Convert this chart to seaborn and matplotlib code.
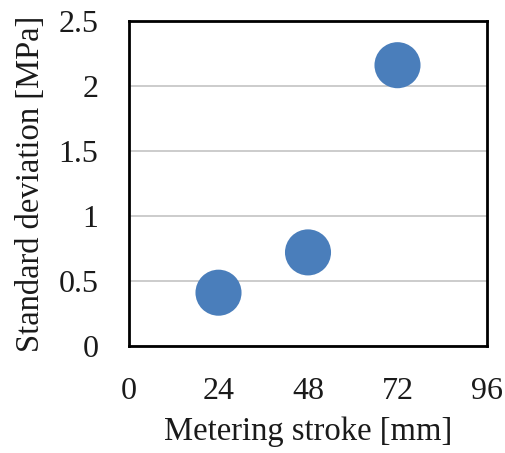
import matplotlib
matplotlib.use("Agg")
import matplotlib.pyplot as plt
import seaborn as sns
import pandas as pd

stroke = [24, 48, 72]
std_dev = [0.41, 0.72, 2.16]
x_ticks = [0, 24, 48, 72, 96]
y_ticks = [0, 0.5, 1, 1.5, 2, 2.5]
y_tick_labels = ["0", "0.5", "1", "1.5", "2", "2.5"]

sns.set_theme(style="white")
plt.rcParams['font.family'] = ['Liberation Serif', 'DejaVu Serif']

df = pd.DataFrame({"stroke": stroke, "std": std_dev})

fig = plt.figure(figsize=(5.06, 4.53), dpi=100)
ax = fig.add_axes([129/506, 1 - 346/453, (487-129)/506, (346-21)/453])
sns.scatterplot(data=df, x="stroke", y="std", ax=ax, s=1100, color="#4A7EBB",
                edgecolor="none", zorder=3, legend=False)
ax.set_xlim(0, 96)
ax.set_ylim(0, 2.5)
ax.set_xticks(x_ticks)
ax.set_xticklabels([str(v) for v in x_ticks])
ax.set_yticks(y_ticks)
ax.set_yticklabels(y_tick_labels)
ax.yaxis.grid(True, color="#c8c8c8", linewidth=1.3)
ax.xaxis.grid(False)
for sp in ax.spines.values():
    sp.set_color("black")
    sp.set_linewidth(2)
ax.tick_params(axis="both", length=0, labelsize=23, colors="#1a1a1a")
ax.tick_params(axis="x", pad=22)
ax.tick_params(axis="y", pad=22)
ax.set_xlabel("Metering stroke [mm]", fontsize=23.5, color="#1a1a1a", labelpad=8)
ax.set_ylabel("Standard deviation [MPa]", fontsize=23.5, color="#1a1a1a", labelpad=9)
fig.savefig("out.png", dpi=100)
